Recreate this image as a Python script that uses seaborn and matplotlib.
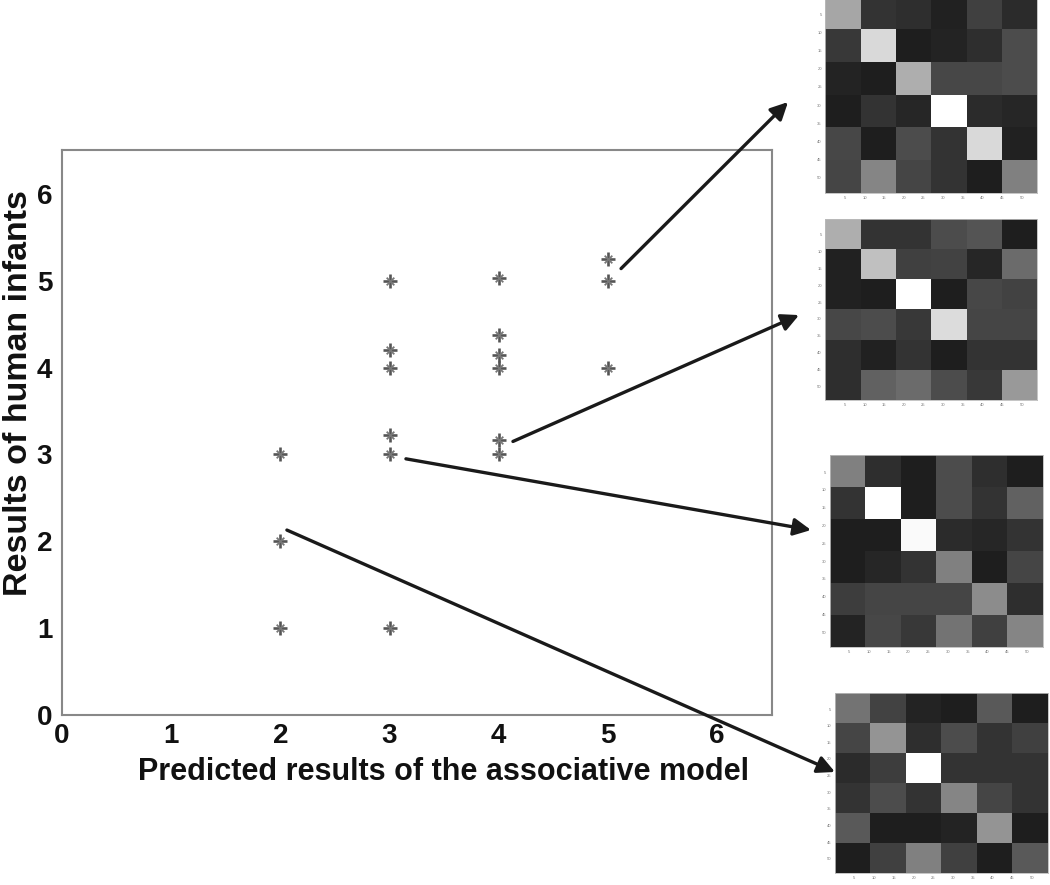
import matplotlib
matplotlib.use("Agg")
import matplotlib.pyplot as plt
import seaborn as sns
import numpy as np
import pandas as pd

# 散点数据：模型预测值 vs 婴儿实验结果
model_pred = [2, 2, 2, 3, 3, 3, 3, 3, 3, 4, 4, 4, 4, 4, 4, 5, 5, 5]
infant_res = [3, 2, 1, 5, 4.2, 4, 3.22, 3, 1, 5.03, 4.37, 4.15, 4, 3.17, 3, 5.25, 5, 4]

# 四个小矩阵（灰度值 0-1）
mat_1 = [[0.65, 0.20, 0.18, 0.13, 0.25, 0.17],
         [0.22, 0.85, 0.12, 0.14, 0.18, 0.30],
         [0.14, 0.12, 0.68, 0.28, 0.28, 0.30],
         [0.12, 0.20, 0.15, 1.00, 0.17, 0.15],
         [0.28, 0.12, 0.30, 0.20, 0.85, 0.13],
         [0.27, 0.52, 0.27, 0.20, 0.12, 0.50]]
mat_2 = [[0.68, 0.20, 0.20, 0.30, 0.33, 0.12],
         [0.13, 0.75, 0.25, 0.26, 0.15, 0.42],
         [0.13, 0.12, 1.00, 0.12, 0.28, 0.26],
         [0.28, 0.30, 0.22, 0.86, 0.27, 0.27],
         [0.18, 0.13, 0.20, 0.12, 0.20, 0.20],
         [0.18, 0.38, 0.42, 0.30, 0.22, 0.60]]
mat_3 = [[0.50, 0.18, 0.12, 0.30, 0.18, 0.12],
         [0.20, 1.00, 0.12, 0.30, 0.20, 0.38],
         [0.12, 0.12, 0.98, 0.17, 0.15, 0.20],
         [0.12, 0.15, 0.20, 0.50, 0.12, 0.27],
         [0.24, 0.27, 0.27, 0.27, 0.55, 0.18],
         [0.14, 0.28, 0.22, 0.45, 0.25, 0.52]]
mat_4 = [[0.45, 0.26, 0.14, 0.12, 0.35, 0.12],
         [0.27, 0.58, 0.18, 0.30, 0.20, 0.25],
         [0.17, 0.24, 1.00, 0.20, 0.20, 0.20],
         [0.20, 0.30, 0.20, 0.52, 0.27, 0.20],
         [0.35, 0.12, 0.12, 0.14, 0.58, 0.12],
         [0.12, 0.25, 0.50, 0.25, 0.12, 0.35]]
mat_ticks = [5, 10, 15, 20, 25, 30, 35, 40, 45, 50]

# 箭头起点（数据坐标）
arrow_starts = [(5.12, 5.14), (4.13, 3.15), (3.15, 2.95), (2.06, 2.13)]

sns.set_style("white")
plt.rcParams['font.family'] = ['Liberation Sans', 'DejaVu Sans']
plt.rcParams['text.color'] = '#111111'
plt.rcParams['axes.labelcolor'] = '#111111'
plt.rcParams['xtick.labelcolor'] = '#111111'
plt.rcParams['ytick.labelcolor'] = '#111111'

fig = plt.figure(figsize=(10.5, 8.85), dpi=100)
ax = fig.add_axes([0.059, 0.192, 0.676, 0.638])

df = pd.DataFrame({'pred': model_pred, 'infant': infant_res})
# MATLAB 风格的 * 标记：大 + 叠加小 x
sns.scatterplot(data=df, x='pred', y='infant', marker='+', s=95,
                color='#555555', linewidth=1.9, ax=ax)
sns.scatterplot(data=df, x='pred', y='infant', marker='x', s=30,
                color='#777777', linewidth=1.3, ax=ax)
ax.set_xlim(0, 6.5)
ax.set_ylim(0, 6.5)
ax.set_xticks(range(7))
ax.set_yticks(range(7))
ax.tick_params(direction='in', length=5, width=1, color='#888888',
               labelsize=20)
ax.tick_params(axis='x', pad=6)
ax.tick_params(axis='y', pad=7)
for lab in ax.get_xticklabels() + ax.get_yticklabels():
    lab.set_fontweight('bold')
for sp in ax.spines.values():
    sp.set_color('#888888')
    sp.set_linewidth(1.5)
ax.set_xlabel('Predicted results of the associative model', fontsize=22,
              fontweight='bold')
ax.set_ylabel('Results of human infants', fontsize=24.5, fontweight='bold')
ax.xaxis.set_label_coords(0.538, -0.074)
ax.yaxis.set_label_coords(-0.04, 0.57)

# 右侧小矩阵
inset_pos = [[0.786, 0.782, 0.202, 0.222],
             [0.786, 0.548, 0.202, 0.205],
             [0.790, 0.269, 0.203, 0.217],
             [0.795, 0.014, 0.203, 0.203]]
mats = [mat_1, mat_2, mat_3, mat_4]
for pos, m in zip(inset_pos, mats):
    iax = fig.add_axes(pos)
    sns.heatmap(np.array(m), cmap='gray', vmin=0, vmax=1, cbar=False, ax=iax)
    iax.set_xticks([t / 9 for t in mat_ticks])
    iax.set_yticks([t / 9 for t in mat_ticks])
    iax.set_xticklabels(mat_ticks, fontsize=3, color='#777777', rotation=0)
    iax.set_yticklabels(mat_ticks, fontsize=3, color='#777777', rotation=0)
    iax.tick_params(length=1.5, width=0.4, color='#999999', pad=1)
    for sp in iax.spines.values():
        sp.set_visible(True)
        sp.set_color('#bbbbbb')
        sp.set_linewidth(0.6)

# 箭头
arrow_tips = [(0.7505, 0.8847), (0.761, 0.644), (0.7724, 0.4011), (0.7952, 0.1277)]
for start, tip in zip(arrow_starts, arrow_tips):
    ax.annotate('', xy=tip, xycoords='figure fraction',
                xytext=start, textcoords='data', annotation_clip=False,
                arrowprops=dict(arrowstyle='-|>', color='#1a1a1a', lw=2.4,
                                mutation_scale=26, shrinkA=0, shrinkB=0))

fig.savefig('out.png', dpi=100)
